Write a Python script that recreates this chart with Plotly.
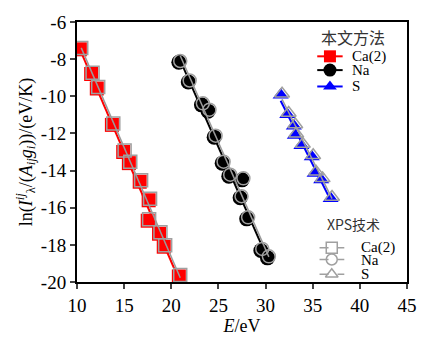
import numpy as np
import plotly.graph_objects as go

# ---- data ----
ca_x = [10.3, 11.5, 12.1, 13.7, 14.9, 15.5, 16.65, 17.6, 17.5, 18.7, 19.2, 20.8]
ca_y = [-7.47, -8.8, -9.58, -11.54, -13.0, -13.6, -14.6, -15.6, -16.7, -17.4, -18.1, -19.7]

na_x = [20.8, 21.8, 23.2, 23.9, 24.55, 25.4, 26.1, 27.5, 27.3, 28.0, 29.5, 30.2]
na_y = [-8.17, -9.23, -10.46, -10.8, -12.2, -13.6, -14.3, -14.5, -15.46, -16.6, -18.3, -18.7]

s_x = [31.6, 32.3, 33.0, 33.1, 33.8, 34.9, 35.2, 35.9, 36.9]
s_y = [-9.93, -10.98, -11.6, -12.1, -12.65, -13.26, -14.14, -14.5, -15.5]

# XPS technique values (nearly coincident, slightly offset)
xps_ca_x = [10.45, 11.65, 12.25, 13.85, 15.05, 15.65, 16.8, 17.75, 17.65, 18.85, 19.35, 20.95]
xps_ca_y = [-7.4, -8.73, -9.5, -11.46, -12.92, -13.52, -14.52, -15.52, -16.62, -17.32, -18.02, -19.62]
xps_na_x = [20.95, 21.95, 23.35, 24.05, 24.7, 25.55, 26.25, 27.65, 27.45, 28.15, 29.65, 30.35]
xps_na_y = [-8.1, -9.15, -10.38, -10.72, -12.12, -13.52, -14.22, -14.42, -15.38, -16.52, -18.22, -18.62]
xps_s_x = [31.75, 32.45, 33.15, 33.25, 33.95, 35.05, 35.35, 36.05, 37.05]
xps_s_y = [-9.86, -10.9, -11.52, -12.02, -12.57, -13.18, -14.06, -14.42, -15.42]

series_names = ["Ca(2)", "Na", "S"]
legend1_title = "本文方法"
legend2_title = "XPS技术"

x_tickvals = [10, 15, 20, 25, 30, 35, 40, 45]
x_ticktext = ["10", "15", "20", "25", "30", "35", "40", "45"]
y_tickvals = [-20, -18, -16, -14, -12, -10, -8, -6]
y_ticktext = ["-20", "-18", "-16", "-14", "-12", "-10", "-8", "-6"]

SERIF = "Liberation Serif, Times New Roman, DejaVu Serif, serif"
CJK = "Noto Sans CJK SC"
GRAY = "#a0a0a0"


def fit_line(x, y):
    x = np.asarray(x, float)
    y = np.asarray(y, float)
    k, b = np.polyfit(x, y, 1)
    xs = np.array([x.min(), x.max()])
    return xs, k * xs + b


fig = go.Figure()

own = [
    (ca_x, ca_y, "square", "#ff0000", 14),
    (na_x, na_y, "circle", "#000000", 15),
    (s_x, s_y, "triangle-up", "#0000ff", 14),
]
xps = [
    (xps_ca_x, xps_ca_y, "square-open"),
    (xps_na_x, xps_na_y, "circle-open"),
    (xps_s_x, xps_s_y, "triangle-up-open"),
]

for name, (x, y, sym, col, sz) in zip(series_names, own):
    lx, ly = fit_line(x, y)
    fig.add_trace(go.Scatter(x=lx, y=ly, mode="lines", line=dict(color=col, width=2),
                             showlegend=False, hoverinfo="skip"))
    fig.add_trace(go.Scatter(x=x, y=y, mode="markers", name=name,
                             marker=dict(symbol=sym, size=sz, color=col),
                             showlegend=False))

for name, (x, y, sym) in zip(series_names, xps):
    lx, ly = fit_line(x, y)
    fig.add_trace(go.Scatter(x=lx, y=ly, mode="lines", line=dict(color="#9a9a9a", width=1.5),
                             showlegend=False, hoverinfo="skip"))
    fig.add_trace(go.Scatter(x=x, y=y, mode="markers", name=name + " (XPS)",
                             marker=dict(symbol=sym, size=13, color=GRAY,
                                         line=dict(width=1.5, color=GRAY)),
                             showlegend=False))

# ---- hand-made legends on an overlay axis (0..1 over the plot area) ----
leg1_rows = [0.868, 0.815, 0.752]
leg2_rows = [0.132, 0.0865, 0.030]
annotations = []
annotations.append(dict(text=legend1_title, x=0.733, y=0.944, xref="x2", yref="y2",
                        xanchor="left", yanchor="middle", showarrow=False,
                        font=dict(family=CJK, size=16, color="#333")))
annotations.append(dict(text=legend2_title, x=0.752, y=0.222, xref="x2", yref="y2",
                        xanchor="left", yanchor="middle", showarrow=False,
                        font=dict(family=CJK, size=14, color="#333")))

for name, (x, y, sym, col, sz), row in zip(series_names, own, leg1_rows):
    fig.add_trace(go.Scatter(x=[0.728, 0.805], y=[row, row], xaxis="x2", yaxis="y2",
                             mode="lines", line=dict(color=col, width=2),
                             showlegend=False, hoverinfo="skip", cliponaxis=False))
    fig.add_trace(go.Scatter(x=[0.7665], y=[row], xaxis="x2", yaxis="y2",
                             mode="markers", marker=dict(symbol=sym, size=sz - 2, color=col),
                             showlegend=False, hoverinfo="skip", cliponaxis=False))
    annotations.append(dict(text=name, x=0.826, y=row, xref="x2", yref="y2",
                            xanchor="left", yanchor="middle", showarrow=False,
                            font=dict(family=SERIF, size=15, color="black")))

for name, (x, y, sym), row in zip(series_names, xps, leg2_rows):
    fig.add_trace(go.Scatter(x=[0.735, 0.81], y=[row, row], xaxis="x2", yaxis="y2",
                             mode="lines", line=dict(color=GRAY, width=1.5, dash="dash"),
                             showlegend=False, hoverinfo="skip", cliponaxis=False))
    fig.add_trace(go.Scatter(x=[0.772], y=[row], xaxis="x2", yaxis="y2",
                             mode="markers", marker=dict(symbol=sym, size=11, color=GRAY,
                                                         line=dict(width=1.5, color=GRAY)),
                             showlegend=False, hoverinfo="skip", cliponaxis=False))
    annotations.append(dict(text=name, x=0.855, y=row, xref="x2", yref="y2",
                            xanchor="left", yanchor="middle", showarrow=False,
                            font=dict(family=SERIF, size=15, color="black")))

fig.update_layout(
    width=427, height=338,
    margin=dict(l=77, r=10, t=22, b=50),
    paper_bgcolor="white", plot_bgcolor="white",
    font=dict(family=SERIF, size=17, color="black"),
    showlegend=False,
    annotations=annotations,
    xaxis=dict(
        range=[10, 45], tickvals=x_tickvals, ticktext=x_ticktext,
        ticks="outside", ticklen=5, tickwidth=1.5,
        showline=True, linewidth=2, linecolor="black", mirror=True,
        showgrid=False, zeroline=False, tickfont=dict(family=SERIF, size=19),
        title=dict(text="<i>E</i>/eV", font=dict(family=SERIF, size=18), standoff=0),
    ),
    yaxis=dict(
        range=[-20, -6], tickvals=y_tickvals, ticktext=y_ticktext,
        ticks="outside", ticklen=5, tickwidth=1.5,
        showline=True, linewidth=2, linecolor="black", mirror=True,
        showgrid=False, zeroline=False, tickfont=dict(family=SERIF, size=19),
        title=dict(text="ln(<i>I</i><sup><i>ij</i></sup><sub>λ</sub>/(<i>A</i><sub><i>ij</i></sub><i>g</i><sub><i>i</i></sub>))/(eV/K)",
                   font=dict(family=SERIF, size=18), standoff=4),
    ),
    xaxis2=dict(overlaying="x", range=[0, 1], visible=False, fixedrange=True),
    yaxis2=dict(overlaying="y", range=[0, 1], visible=False, fixedrange=True),
)

fig.write_html("out.html")
